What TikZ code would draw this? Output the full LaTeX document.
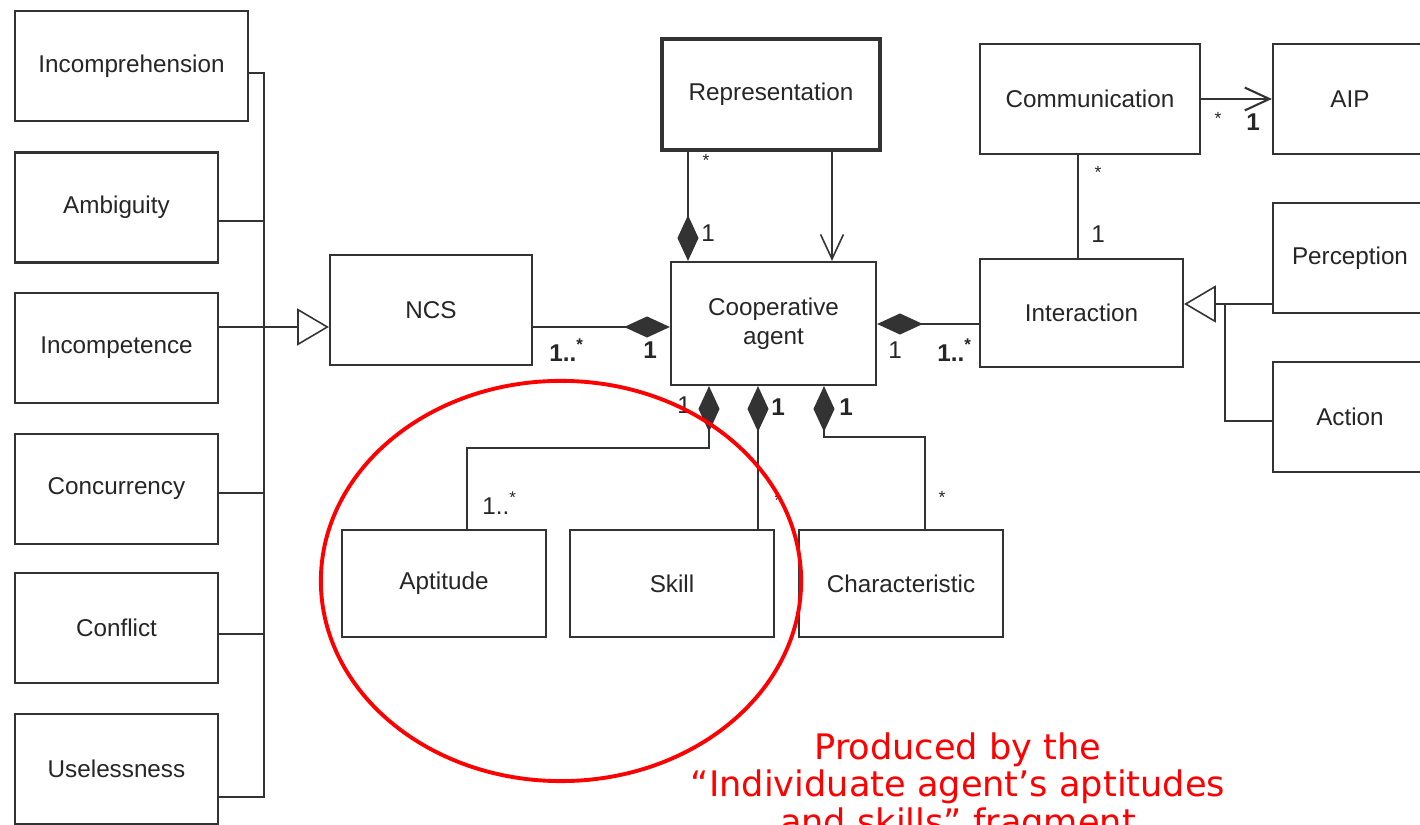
\documentclass[tikz,border=0pt]{standalone}
\usepackage{fontspec}
\setmainfont{Liberation Sans}
\newfontfamily\notefont{DejaVu Sans}
\usetikzlibrary{arrows.meta}

\begin{document}
\begin{tikzpicture}[x=0.01cm,y=-0.01cm,
  cls/.style={draw=black!80, line width=0.6pt, fill=white, inner sep=0pt, minimum height=1.1cm, text=black!85, font=\fontsize{6.9pt}{8.3pt}\selectfont},
  link/.style={draw=black!80, line width=0.45pt},
  mult/.style={text=black!85, inner sep=0pt, font=\fontsize{6.9pt}{8pt}\selectfont},
  star/.style={text=black!85, inner sep=0pt, font=\fontsize{5pt}{6pt}\selectfont},
  compo/.tip={Diamond[length=13pt,width=6pt]},
  gener/.tip={Triangle[open,length=9pt,width=10.5pt]},
  navi/.tip={Straight Barb[length=7pt,width=6.5pt]}]
  \useasboundingbox (0,0) rectangle (1420,825);

  %左の列
  \node[cls, minimum width=2.33cm] (incompr) at (131.5,66) {Incomprehension};
  \node[cls, minimum width=2.03cm] (ambig) at (116.5,207.5) {Ambiguity};
  \node[cls, minimum width=2.03cm] (incompet) at (116.5,348) {Incompetence};
  \node[cls, minimum width=2.03cm] (concur) at (116.5,489) {Concurrency};
  \node[cls, minimum width=2.03cm] (confl) at (116.5,628) {Conflict};
  \node[cls, minimum width=2.03cm] (usel) at (116.5,769) {Uselessness};

  %中央
  \node[cls, minimum width=2.02cm] (ncs) at (431,310) {NCS};
  \node[cls, minimum width=2.18cm, minimum height=1.11cm, line width=0.9pt] (repr) at (771,94.5) {Representation};
  \node[cls, minimum width=2.05cm, minimum height=1.23cm, align=center] (coop) at (773.5,323.5) {Cooperative\\agent};

  %右側
  \node[cls, minimum width=2.2cm] (comm) at (1090,99) {Communication};
  \node[cls, minimum width=1.54cm] (aip) at (1350,99) {AIP};
  \node[cls, minimum width=2.03cm, minimum height=1.08cm] (inter) at (1081.5,313) {Interaction};
  \node[cls, minimum width=1.54cm] (percep) at (1350,258) {Perception};
  \node[cls, minimum width=1.54cm] (action) at (1350,417) {Action};

  %下
  \node[cls, minimum width=2.04cm, minimum height=1.07cm] (apt) at (444,583.5) {Aptitude};
  \node[cls, minimum width=2.04cm, minimum height=1.07cm] (skill) at (672,583.5) {Skill};
  \node[cls, minimum width=2.04cm, minimum height=1.07cm] (charac) at (901,583.5) {Characteristic};

  %汎化(左)
  \coordinate (bus) at (264,73);
  \draw[link] (incompr.east |- bus) -- (bus) |- (usel.east |- 0,797);
  \draw[link] (ambig.east |- 0,221) -- (bus |- 0,221);
  \draw[link] (concur.east |- 0,493) -- (bus |- 0,493);
  \draw[link] (confl.east |- 0,634) -- (bus |- 0,634);
  \draw[link,-gener] (incompet.east |- 0,327) -- (ncs.west |- 0,327);

  %コンポジション
  \draw[link,compo-] (coop.west |- 0,327) -- (ncs.east |- 0,327);
  \draw[link,compo-] (coop.north -| 688,0) -- (repr.south -| 688,0);
  \draw[link,-navi] (repr.south -| 832,0) -- (coop.north -| 832,0);
  \draw[link,compo-] (coop.east |- 0,324) -- (inter.west |- 0,324);
  \draw[link,compo-] (coop.south -| 709,0) |- (467,448) -- (apt.north -| 467,0);
  \draw[link,compo-] (coop.south -| 758,0) -- (skill.north -| 758,0);
  \draw[link,compo-] (coop.south -| 824,0) |- (925,437) -- (charac.north -| 925,0);

  %関連
  \draw[link,line width=0.6pt,-navi] (comm.east) -- (aip.west);
  \draw[link] (comm.south -| 1078,0) -- (inter.north -| 1078,0);

  %汎化(右)
  \coordinate (split) at (1225,304);
  \draw[link,-gener] (split) -- (inter.east |- split);
  \draw[link] (percep.west |- split) -- (split) |- (action.west |- 0,421);

  %多重度
  \node[mult] (m1) at (650,350) {\bfseries 1};
  \node[mult] (m2) at (567,350) {\bfseries 1..\textsuperscript{*}};
  \node[star] (m3) at (706,160) {*};
  \node[mult] (m4) at (708,233) {1};
  \node[star] (m5) at (1218,118) {*};
  \node[mult] (m6) at (1253,122) {\bfseries 1};
  \node[star] (m7) at (1098,172) {*};
  \node[mult] (m8) at (1098,234) {1};
  \node[mult] (m9) at (895,350) {1};
  \node[mult] (m10) at (955,350) {\bfseries 1..\textsuperscript{*}};
  \node[mult] (m11) at (684,405) {1};
  \node[mult] (m12) at (500,503) {1..\textsuperscript{*}};
  \node[mult] (m13) at (778,407) {\bfseries 1};
  \node[star] (m14) at (778,500) {*};
  \node[mult] (m15) at (846,407) {\bfseries 1};
  \node[star] (m16) at (942,497) {*};

  %赤い楕円と注記
  \draw[red, line width=1.1pt] (561,581) ellipse [x radius=2.4cm, y radius=2cm];
  \node[text=red, align=center, inner sep=0pt, font=\notefont\fontsize{10pt}{9.1pt}\selectfont] (note) at (958,787) {Produced by the\\“Individuate agent’s aptitudes\\and skills” fragment};
\end{tikzpicture}
\end{document}
